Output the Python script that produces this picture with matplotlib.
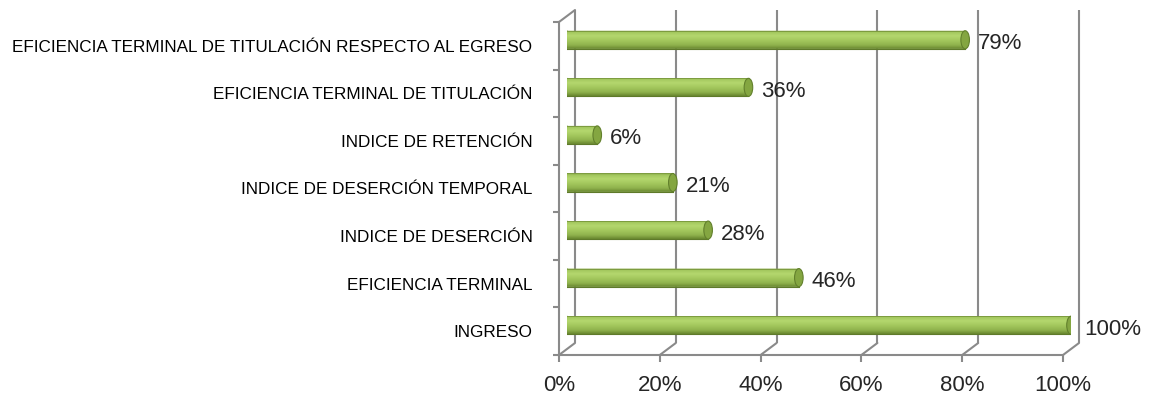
import matplotlib
matplotlib.use("Agg")
import matplotlib.pyplot as plt
import numpy as np
from matplotlib.patches import Ellipse, ConnectionPatch
from matplotlib.colors import LinearSegmentedColormap
from matplotlib.path import Path

# ---------------- data ----------------
categories = [
    "INGRESO",
    "EFICIENCIA TERMINAL",
    "INDICE DE DESERCIÓN",
    "INDICE DE DESERCIÓN TEMPORAL",
    "INDICE DE RETENCIÓN",
    "EFICIENCIA TERMINAL DE TITULACIÓN",
    "EFICIENCIA TERMINAL DE TITULACIÓN RESPECTO AL EGRESO",
]
values = [100, 46, 28, 21, 6, 36, 79]
x_ticks = [0, 20, 40, 60, 80, 100]
x_tick_labels = ["0%", "20%", "40%", "60%", "80%", "100%"]

# ---------------- layout ----------------
W, H, DPI = 1149, 408, 100
plt.rcParams['font.family'] = ['Liberation Sans', 'DejaVu Sans']
fig = plt.figure(figsize=(W / DPI, H / DPI), dpi=DPI)
fig.patch.set_facecolor("white")

FL, FR, FT, FB = 559, 1063, 22, 355   # front plane in image pixels
BDX, BDY = 16, 12                      # back plane offset (px)
MDX, MDY = 8, 6                        # bar plane offset (px)
GRID = "#8a8a8a"
LW = 1.5


def make_ax(dx, dy, z):
    ax = fig.add_axes([(FL + dx) / W, (H - FB + dy) / H, (FR - FL) / W, (FB - FT) / H])
    ax.set_xlim(0, 100)
    ax.set_ylim(-0.5, len(categories) - 0.5)
    ax.set_zorder(z)
    ax.patch.set_alpha(0)
    return ax


ax_back = make_ax(BDX, BDY, 1)
ax_mid = make_ax(MDX, MDY, 3)
ax_front = make_ax(0, 0, 2)

ylo, yhi = -0.5, len(categories) - 0.5

# back wall gridlines
ax_back.axis("off")
ax_back.vlines(x_ticks, ylo, yhi, color=GRID, lw=LW, clip_on=False)

# floor / wall diagonals
for xt in x_ticks:
    cp = ConnectionPatch(xyA=(xt, ylo), coordsA=ax_back.transData,
                         xyB=(xt, ylo), coordsB=ax_front.transData,
                         color=GRID, lw=LW)
    fig.add_artist(cp)
cp = ConnectionPatch(xyA=(0, yhi), coordsA=ax_back.transData,
                     xyB=(0, yhi), coordsB=ax_front.transData,
                     color=GRID, lw=LW)
fig.add_artist(cp)

# front axes: spines, ticks, labels
for s in ["top", "right"]:
    ax_front.spines[s].set_visible(False)
for s in ["left", "bottom"]:
    ax_front.spines[s].set_color(GRID)
    ax_front.spines[s].set_linewidth(LW)
ax_front.set_xticks(x_ticks)
ax_front.set_xticklabels(x_tick_labels, fontsize=16, color="#262626")
ax_front.tick_params(axis="x", direction="out", length=5, width=LW, color=GRID, pad=9.5)
ax_front.set_yticks(range(len(categories)))
ax_front.set_yticklabels(categories, fontsize=12.3, color="#000000")
ax_front.tick_params(axis="y", which="major", length=0, pad=19)
ax_front.set_yticks(np.arange(ylo, yhi + 0.01, 1.0), minor=True)
ax_front.tick_params(axis="y", which="minor", direction="out", length=4.3, width=LW, color=GRID)

# bars as cylinders
ax_mid.axis("off")
bar_h = 0.38
cap_w = 1.7
cmap = LinearSegmentedColormap.from_list(
    "cyl", [(0.0, "#7f9f40"), (0.1, "#a3c75e"), (0.3, "#b4d76e"),
            (0.55, "#a3c75d"), (0.8, "#8fb24d"), (1.0, "#68862f")])
grad = np.linspace(0, 1, 64).reshape(-1, 1)
theta = np.linspace(np.pi / 2, 3 * np.pi / 2, 40)

for i, v in enumerate(values):
    y0, y1 = i - bar_h / 2, i + bar_h / 2
    im = ax_mid.imshow(grad, cmap=cmap, aspect="auto", extent=[-cap_w / 2, v, y0, y1],
                       origin="upper", interpolation="bilinear", zorder=2)
    # rounded left end + body as one outline
    xs = np.concatenate([cap_w / 2 * np.cos(theta), [v, v]])
    ys = np.concatenate([i + bar_h / 2 * np.sin(theta), [y0, y1]])
    verts = np.column_stack([xs, ys])
    verts = np.vstack([verts, verts[:1]])
    codes = [Path.MOVETO] + [Path.LINETO] * (len(verts) - 2) + [Path.CLOSEPOLY]
    outline = Path(verts, codes)
    im.set_clip_path(outline, ax_mid.transData)
    ax_mid.plot(xs[:-1], ys[:-1], color="#6f8e35", lw=0.6, zorder=3)
    ax_mid.plot([0, v], [y1, y1], color="#7d9c3f", lw=0.7, zorder=3)
    ax_mid.plot([0, v], [y0, y0], color="#5e7a2a", lw=0.8, zorder=3)
    cap = Ellipse((v, i), cap_w, bar_h, facecolor="#84a641", edgecolor="#62802c",
                  lw=0.8, zorder=4)
    ax_mid.add_patch(cap)
    ax_mid.annotate(f"{v}%", xy=(v, i), xytext=(13, -4), textcoords="offset pixels",
                    ha="left", va="center", fontsize=16, color="#262626",
                    annotation_clip=False)

fig.savefig("out.png", dpi=DPI, facecolor="white")
